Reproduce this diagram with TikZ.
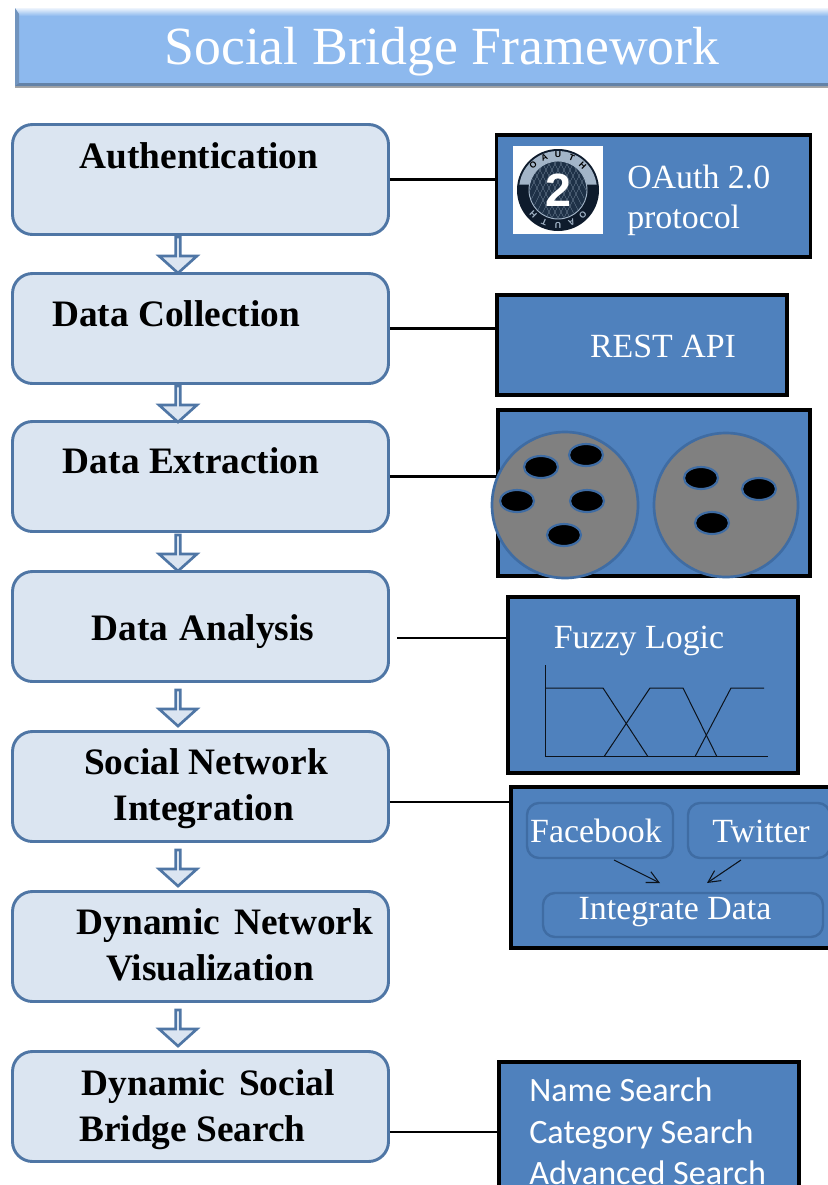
\documentclass[tikz,border=0pt]{standalone}
\usepackage{fontspec}
\setmainfont{Liberation Serif}
\newfontfamily\carl{Carlito}
\newfontfamily\heros{Liberation Sans}
\usetikzlibrary{shapes.arrows,shapes.geometric,arrows.meta,calc}
\definecolor{flowfill}{HTML}{DBE5F1}
\definecolor{flowline}{HTML}{4F76A5}
\definecolor{panel}{HTML}{4F81BD}
\definecolor{inner}{HTML}{3F6CA3}
\definecolor{titlefill}{HTML}{8DB9EE}
\definecolor{disk}{HTML}{808080}
\definecolor{logodark}{HTML}{0E1B2C}
\definecolor{logomid}{HTML}{1E3147}
\definecolor{logolight}{HTML}{A3B5C8}
\tikzset{
 x=0.75pt,y=-0.75pt,
 flowbox/.style={draw=flowline,fill=flowfill,line width=2.2pt,rounded corners=15pt,minimum width={376*.75pt},minimum height={110*.75pt},inner sep=0pt},
 flowtext/.style={font=\fontsize{28}{34.5}\selectfont\bfseries,text=black,inner sep=0pt,align=left},
 downarrow/.style={single arrow,draw=flowline,fill=flowfill,line width=2pt,rotate=-90,minimum height={36*.75pt},minimum width={38*.75pt},single arrow head extend=7pt,single arrow tip angle=96,inner sep=0pt,anchor=center},
 panelbox/.style={draw=black,fill=panel,line width=2.3pt,inner sep=0pt},
 paneltext/.style={text=white,font=\fontsize{25.4}{32}\selectfont,inner sep=0pt,align=left},
 innerbox/.style={draw=inner,line width=1.8pt,rounded corners=9pt,inner sep=0pt},
 link/.style={draw=black,line width=1.8pt},
 bubble/.style={ellipse,draw=inner,fill=black,line width=1.6pt,minimum width=34*.75pt,minimum height=22*.75pt,inner sep=0pt},
 bigdisk/.style={circle,draw=inner,fill=disk,line width=2pt,inner sep=0pt},
 fuzzy/.style={draw=black!85!panel,line width=.75pt},
 ring/.style={font=\heros\bfseries\fontsize{6.5}{7}\selectfont,inner sep=0pt},
}
\begin{document}
\begin{tikzpicture}
\clip (0,0) rectangle (828,1185);
\fill[white] (0,0) rectangle (828,1185);
% title
\fill[black!35] (15,12) rectangle (828,88);
\fill[titlefill] (15,8) rectangle (828,86);
\shade[top color=white!85!titlefill,bottom color=titlefill] (15,8) rectangle (828,16);
\fill[titlefill!80!black] (15,8) -- (19,14) -- (19,83) -- (15,86) -- cycle;
\fill[titlefill!70!black] (15,86) -- (19,83) -- (828,83) -- (828,86) -- cycle;
\node[inner sep=0pt,text=white,font=\fontsize{40.3}{46}\selectfont] (title) at (442,52) {Social Bridge Framework};
% flow boxes
\node[flowbox] (auth) at (200.5,179.5) {};
\node[flowbox] (coll) at (200.5,328.5) {};
\node[flowbox] (extr) at (200.5,476.5) {};
\node[flowbox] (anal) at (200.5,626.5) {};
\node[flowbox] (snet) at (200.5,786.5) {};
\node[flowbox] (dnet) at (200.5,946.5) {};
\node[flowbox] (dsoc) at (200.5,1106.5) {};
\node[flowtext] (tauth) at (199,156) {Authentication};
\node[flowtext] (tcoll) at (176,314) {Data Collection};
\node[flowtext] (textr) at (191,461) {Data Extraction};
\node[flowtext] (tanal) at (203,632) {Data\hspace{.05em} Analysis};
\node[flowtext] (tsnet) at (206,789) {Social Network\\\hspace*{22pt}Integration};
\node[flowtext] (tdnet) at (225,945) {Dynamic\hspace{.13em} Network\\\hspace*{22pt}Visualization};
\node[flowtext] (tdsoc) at (207,1110) {\hspace*{2pt}Dynamic\hspace{.13em} Social\\Bridge Search};
% block arrows
\node[downarrow] (a1) at (178,254) {};
\node[downarrow] (a2) at (178,403) {};
\node[downarrow] (a3) at (178,552) {};
\node[downarrow] (a4) at (178,707) {};
\node[downarrow] (a5) at (178,867) {};
\node[downarrow] (a6) at (178,1027) {};
% panels
\node[panelbox,minimum width={314*.75pt},minimum height={122*.75pt}] (poauth) at (653.5,196) {};
\node[panelbox,minimum width={290*.75pt},minimum height={100*.75pt}] (prest) at (642,345) {};
\node[panelbox,minimum width={312*.75pt},minimum height={166*.75pt}] (pextr) at (654,493) {};
\node[panelbox,minimum width={290*.75pt},minimum height={176*.75pt}] (pfuzz) at (653,685) {};
\node[panelbox,minimum width={340*.75pt},minimum height={161*.75pt}] (pint) at (681,867.5) {};
\node[panelbox,minimum width={300*.75pt},minimum height={160*.75pt}] (psrch) at (649,1142) {};
% oauth logo
\fill[white] (513,146) rectangle (603,234);
\fill[logodark] (558,190) circle[radius=41];
\fill[logolight] (558,190) ++(188:39) arc[start angle=188,end angle=352,radius=39] -- cycle;
\fill[logomid] (558,190) circle[radius=29];
\begin{scope}
\clip (558,190) circle[radius=28];
\foreach \k in {-6,...,6}{
  \draw[logolight!60!logomid,line width=.25pt] ($(558,190)+(\k*6,-32)$) -- ++(32,64);
  \draw[logolight!60!logomid,line width=.25pt] ($(558,190)+(\k*6,-32)$) -- ++(-32,64);
}
\end{scope}
\draw[logolight,line width=.7pt] (558,190) circle[radius=29];
\foreach \c/\a/\n in {O/135/a,A/113/b,U/90/c,T/67/d,H/45/e}{
  \pgfmathsetmacro\r{\a-90}
  \node[ring,text=black,rotate=\r] (top\n) at ($(558,190)+(-\a:35)$) {\c};
}
\foreach \c/\a/\n in {O/45/a,A/67/b,U/90/c,T/113/d,H/135/e}{
  \pgfmathsetmacro\r{90-\a}
  \node[ring,text=logolight,rotate=\r+180] (bot\n) at ($(558,190)+(\a:35)$) {\c};
}
\node[inner sep=0pt,text=white,font=\heros\bfseries\fontsize{35}{35}\selectfont] (two) at (558,190) {2};
\node[paneltext,anchor=west] (toauth) at (627,177) {OAuth 2.0};
\node[paneltext,anchor=west] (tproto) at (627,220) {protocol};
\node[paneltext] (trest) at (663,346) {REST API};
% extraction disks
\node[bigdisk,minimum size={146*.75pt}] (d1) at (565,505) {};
\node[bigdisk,minimum size={144*.75pt}] (d2) at (726,505) {};
\foreach \n/\p/\q in {b1/541/467,b2/586/455,b3/517/501,b4/587/501,b5/564/535,b6/701/478,b7/759/489,b8/712/523}
  \node[bubble] (\n) at (\p,\q) {};
% fuzzy
\node[paneltext] (tfuzz) at (639,641) {Fuzzy Logic};
\draw[fuzzy] (545.7,665) -- (545.7,756.7) -- (768,756.7);
\draw[fuzzy] (545.7,688) -- (603,688) -- (648,756.7);
\draw[fuzzy] (604,756.7) -- (650,688) -- (683,688) -- (717,756.7);
\draw[fuzzy] (695,756.7) -- (731,688) -- (764,688);
% integration
\node[innerbox,minimum width={146*.75pt},minimum height={55*.75pt}] (fb) at (600,830.5) {};
\node[innerbox,minimum width={142*.75pt},minimum height={55*.75pt}] (tw) at (759,830.5) {};
\node[innerbox,minimum width={280*.75pt},minimum height={44*.75pt}] (ig) at (683,915) {};
\node[paneltext] (tfb) at (596,831) {Facebook};
\node[paneltext] (ttw) at (761,831) {Twitter};
\node[paneltext] (tig) at (675,912) {Integrate Data};
\coordinate (f1) at (614,860); \coordinate (f2) at (660,883);
\coordinate (t1) at (741,860); \coordinate (t2) at (707,883);
\draw[black!85!panel,line width=.8pt,-{Straight Barb[length=9pt,width=9pt]}] (f1) -- (f2);
\draw[black!85!panel,line width=.8pt,-{Straight Barb[length=9pt,width=9pt]}] (t1) -- (t2);
% search
\node[paneltext,font=\carl\fontsize{25.6}{30.8}\selectfont,anchor=north west] (tsrch) at (529,1078) {Name Search\\Category Search\\Advanced Search};
% connectors
\coordinate (canal) at (397,638);
\draw[link] (auth.east) -- (auth.east -| poauth.west);
\draw[link] (coll.east) -- (coll.east -| prest.west);
\draw[link] (extr.east) -- (extr.east -| pextr.west);
\draw[link] (canal) -- (canal -| pfuzz.west);
\draw[link] ([yshift=-11.6pt]snet.east) -- ([yshift=-11.6pt]snet.east -| pint.west);
\draw[link] ([yshift=-19.3pt]dsoc.east) -- ([yshift=-19.3pt]dsoc.east -| psrch.west);
\end{tikzpicture}
\end{document}
